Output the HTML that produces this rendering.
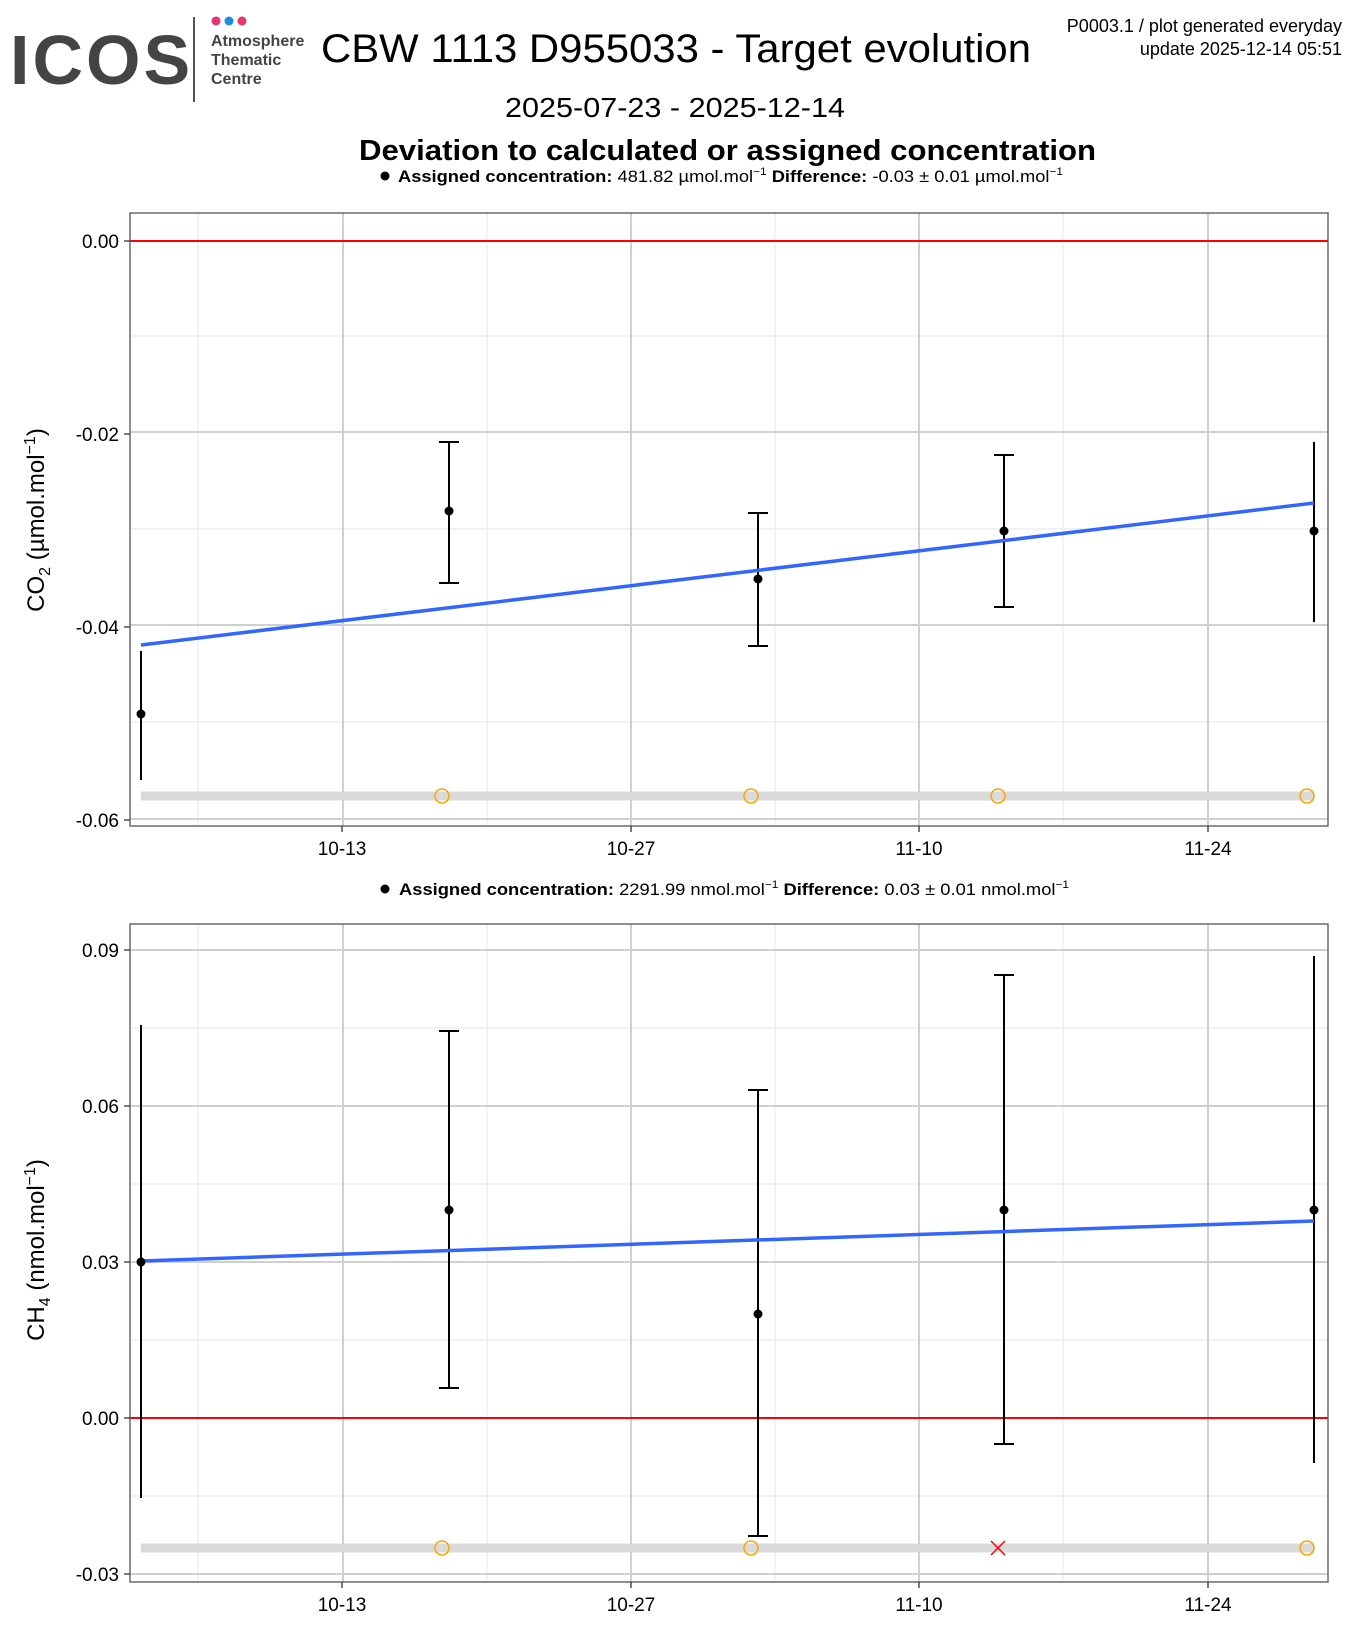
<!DOCTYPE html>
<html><head><meta charset="utf-8"><style>
body{margin:0;background:#fff;font-family:"Liberation Sans",sans-serif;}
</style></head><body>
<svg width="1350" height="1620" xmlns="http://www.w3.org/2000/svg" font-family="Liberation Sans, sans-serif">
<rect width="1350" height="1620" fill="#fff"/>
<!-- logo -->
<text x="10" y="84" font-size="70" font-weight="bold" fill="#444" letter-spacing="3">ICOS</text>
<line x1="194" y1="17" x2="194" y2="102" stroke="#555" stroke-width="2"/>
<circle cx="216" cy="21" r="4.5" fill="#e8336e"/><circle cx="229" cy="21" r="4.5" fill="#1a8fe0"/><circle cx="242" cy="21" r="4.5" fill="#e8336e"/>
<text x="211" y="46" font-size="16" font-weight="bold" fill="#444">Atmosphere</text>
<text x="211" y="65" font-size="16" font-weight="bold" fill="#444">Thematic</text>
<text x="211" y="84" font-size="16" font-weight="bold" fill="#444">Centre</text>
<text x="321" y="62" font-size="40" textLength="710" lengthAdjust="spacingAndGlyphs">CBW 1113 D955033 - Target evolution</text>
<text x="1342" y="32" font-size="18" text-anchor="end">P0003.1 / plot generated everyday</text>
<text x="1342" y="55" font-size="18" text-anchor="end">update  2025-12-14 05:51</text>
<text x="505" y="117" font-size="28" textLength="340" lengthAdjust="spacingAndGlyphs">2025-07-23 - 2025-12-14</text>
<text x="359" y="160" font-size="29" font-weight="bold" textLength="737" lengthAdjust="spacingAndGlyphs">Deviation to calculated or assigned concentration</text>
<circle cx="385" cy="176" r="4.5"/>
<text x="398" y="182" font-size="17" textLength="665" lengthAdjust="spacingAndGlyphs"><tspan font-weight="bold">Assigned concentration:</tspan> 481.82 µmol.mol<tspan dy="-7" font-size="11">−1</tspan><tspan dy="7">  </tspan><tspan font-weight="bold">Difference:</tspan> -0.03 ± 0.01 µmol.mol<tspan dy="-7" font-size="11">−1</tspan></text>
<circle cx="385" cy="889" r="4.5"/>
<text x="399" y="895" font-size="17" textLength="670" lengthAdjust="spacingAndGlyphs"><tspan font-weight="bold">Assigned concentration:</tspan> 2291.99 nmol.mol<tspan dy="-7" font-size="11">−1</tspan><tspan dy="7">  </tspan><tspan font-weight="bold">Difference:</tspan> 0.03 ± 0.01 nmol.mol<tspan dy="-7" font-size="11">−1</tspan></text>

<!-- panel 1 -->
<g>
<g stroke="#ebebeb" stroke-width="1.2">
<line x1="198" y1="213" x2="198" y2="826"/><line x1="487" y1="213" x2="487" y2="826"/><line x1="775" y1="213" x2="775" y2="826"/><line x1="1063" y1="213" x2="1063" y2="826"/>
<line x1="130" y1="336" x2="1328" y2="336"/><line x1="130" y1="529" x2="1328" y2="529"/><line x1="130" y1="722" x2="1328" y2="722"/>
</g>
<g stroke="#d0d0d0" stroke-width="2">
<line x1="343" y1="213" x2="343" y2="826"/><line x1="631" y1="213" x2="631" y2="826"/><line x1="919" y1="213" x2="919" y2="826"/><line x1="1208" y1="213" x2="1208" y2="826"/>
<line x1="130" y1="432" x2="1328" y2="432"/><line x1="130" y1="625" x2="1328" y2="625"/><line x1="130" y1="819" x2="1328" y2="819"/>
</g>
<line x1="130" y1="241" x2="1328" y2="241" stroke="red" stroke-width="2"/>
<line x1="141" y1="796" x2="1314" y2="796" stroke="#d9d9d9" stroke-width="9"/>
<g fill="none" stroke="orange" stroke-width="1.5"><circle cx="442" cy="796" r="7"/><circle cx="751" cy="796" r="7"/><circle cx="998" cy="796" r="7"/><circle cx="1307" cy="796" r="7"/></g>
<g stroke="#000" stroke-width="2">
<line x1="141" y1="651" x2="141" y2="780"/>
<line x1="449" y1="442" x2="449" y2="583"/><line x1="439" y1="442" x2="459" y2="442"/><line x1="439" y1="583" x2="459" y2="583"/>
<line x1="758" y1="513" x2="758" y2="646"/><line x1="748" y1="513" x2="768" y2="513"/><line x1="748" y1="646" x2="768" y2="646"/>
<line x1="1004" y1="455" x2="1004" y2="607"/><line x1="994" y1="455" x2="1014" y2="455"/><line x1="994" y1="607" x2="1014" y2="607"/>
<line x1="1314" y1="442" x2="1314" y2="622"/>
</g>
<line x1="141" y1="645" x2="1314" y2="503" stroke="#3366ff" stroke-width="3.5"/>
<g><circle cx="141" cy="714" r="4.5"/><circle cx="449" cy="511" r="4.5"/><circle cx="758" cy="579" r="4.5"/><circle cx="1004" cy="531" r="4.5"/><circle cx="1314" cy="531" r="4.5"/></g>
<rect x="130" y="213" width="1198" height="613" fill="none" stroke="#555" stroke-width="1.3"/>
<g stroke="#333" stroke-width="1.3"><line x1="124" y1="241" x2="130" y2="241"/><line x1="124" y1="434" x2="130" y2="434"/><line x1="124" y1="627" x2="130" y2="627"/><line x1="124" y1="820" x2="130" y2="820"/>
<line x1="342" y1="826" x2="342" y2="832"/><line x1="631" y1="826" x2="631" y2="832"/><line x1="919" y1="826" x2="919" y2="832"/><line x1="1208" y1="826" x2="1208" y2="832"/></g>
<g font-size="19" text-anchor="end"><text x="119" y="248">0.00</text><text x="119" y="441">-0.02</text><text x="119" y="634">-0.04</text><text x="119" y="827">-0.06</text></g>
<g font-size="19" text-anchor="middle"><text x="342" y="855">10-13</text><text x="631" y="855">10-27</text><text x="919" y="855">11-10</text><text x="1208" y="855">11-24</text></g>
<text transform="translate(44,520) rotate(-90)" font-size="24" text-anchor="middle">CO<tspan font-size="16" dy="6">2</tspan><tspan dy="-6"> (µmol.mol</tspan><tspan font-size="16" dy="-9">−1</tspan><tspan dy="9">)</tspan></text>
</g>

<!-- panel 2 -->
<g>
<g stroke="#ebebeb" stroke-width="1.2">
<line x1="198" y1="924" x2="198" y2="1582"/><line x1="487" y1="924" x2="487" y2="1582"/><line x1="775" y1="924" x2="775" y2="1582"/><line x1="1063" y1="924" x2="1063" y2="1582"/>
<line x1="130" y1="1028" x2="1328" y2="1028"/><line x1="130" y1="1184" x2="1328" y2="1184"/><line x1="130" y1="1340" x2="1328" y2="1340"/><line x1="130" y1="1496" x2="1328" y2="1496"/>
</g>
<g stroke="#d0d0d0" stroke-width="2">
<line x1="343" y1="924" x2="343" y2="1582"/><line x1="631" y1="924" x2="631" y2="1582"/><line x1="919" y1="924" x2="919" y2="1582"/><line x1="1208" y1="924" x2="1208" y2="1582"/>
<line x1="130" y1="950" x2="1328" y2="950"/><line x1="130" y1="1106" x2="1328" y2="1106"/><line x1="130" y1="1262" x2="1328" y2="1262"/><line x1="130" y1="1574" x2="1328" y2="1574"/>
</g>
<line x1="130" y1="1418" x2="1328" y2="1418" stroke="red" stroke-width="2"/>
<line x1="141" y1="1548" x2="1314" y2="1548" stroke="#d9d9d9" stroke-width="9"/>
<g fill="none" stroke="orange" stroke-width="1.5"><circle cx="442" cy="1548" r="7"/><circle cx="751" cy="1548" r="7"/><circle cx="1307" cy="1548" r="7"/></g>
<g stroke="red" stroke-width="1.5"><line x1="991" y1="1541" x2="1005" y2="1555"/><line x1="991" y1="1555" x2="1005" y2="1541"/></g>
<g stroke="#000" stroke-width="2">
<line x1="141" y1="1025" x2="141" y2="1498"/>
<line x1="449" y1="1031" x2="449" y2="1388"/><line x1="439" y1="1031" x2="459" y2="1031"/><line x1="439" y1="1388" x2="459" y2="1388"/>
<line x1="758" y1="1090" x2="758" y2="1536"/><line x1="748" y1="1090" x2="768" y2="1090"/><line x1="748" y1="1536" x2="768" y2="1536"/>
<line x1="1004" y1="975" x2="1004" y2="1444"/><line x1="994" y1="975" x2="1014" y2="975"/><line x1="994" y1="1444" x2="1014" y2="1444"/>
<line x1="1314" y1="956" x2="1314" y2="1463"/>
</g>
<line x1="141" y1="1261" x2="1314" y2="1221" stroke="#3366ff" stroke-width="3.5"/>
<g><circle cx="141" cy="1262" r="4.5"/><circle cx="449" cy="1210" r="4.5"/><circle cx="758" cy="1314" r="4.5"/><circle cx="1004" cy="1210" r="4.5"/><circle cx="1314" cy="1210" r="4.5"/></g>
<rect x="130" y="924" width="1198" height="658" fill="none" stroke="#555" stroke-width="1.3"/>
<g stroke="#333" stroke-width="1.3"><line x1="124" y1="950" x2="130" y2="950"/><line x1="124" y1="1106" x2="130" y2="1106"/><line x1="124" y1="1262" x2="130" y2="1262"/><line x1="124" y1="1418" x2="130" y2="1418"/><line x1="124" y1="1574" x2="130" y2="1574"/>
<line x1="342" y1="1582" x2="342" y2="1588"/><line x1="631" y1="1582" x2="631" y2="1588"/><line x1="919" y1="1582" x2="919" y2="1588"/><line x1="1208" y1="1582" x2="1208" y2="1588"/></g>
<g font-size="19" text-anchor="end"><text x="119" y="957">0.09</text><text x="119" y="1113">0.06</text><text x="119" y="1269">0.03</text><text x="119" y="1425">0.00</text><text x="119" y="1581">-0.03</text></g>
<g font-size="19" text-anchor="middle"><text x="342" y="1611">10-13</text><text x="631" y="1611">10-27</text><text x="919" y="1611">11-10</text><text x="1208" y="1611">11-24</text></g>
<text transform="translate(44,1250) rotate(-90)" font-size="24" text-anchor="middle">CH<tspan font-size="16" dy="6">4</tspan><tspan dy="-6"> (nmol.mol</tspan><tspan font-size="16" dy="-9">−1</tspan><tspan dy="9">)</tspan></text>
</g>
</svg>
</body></html>
